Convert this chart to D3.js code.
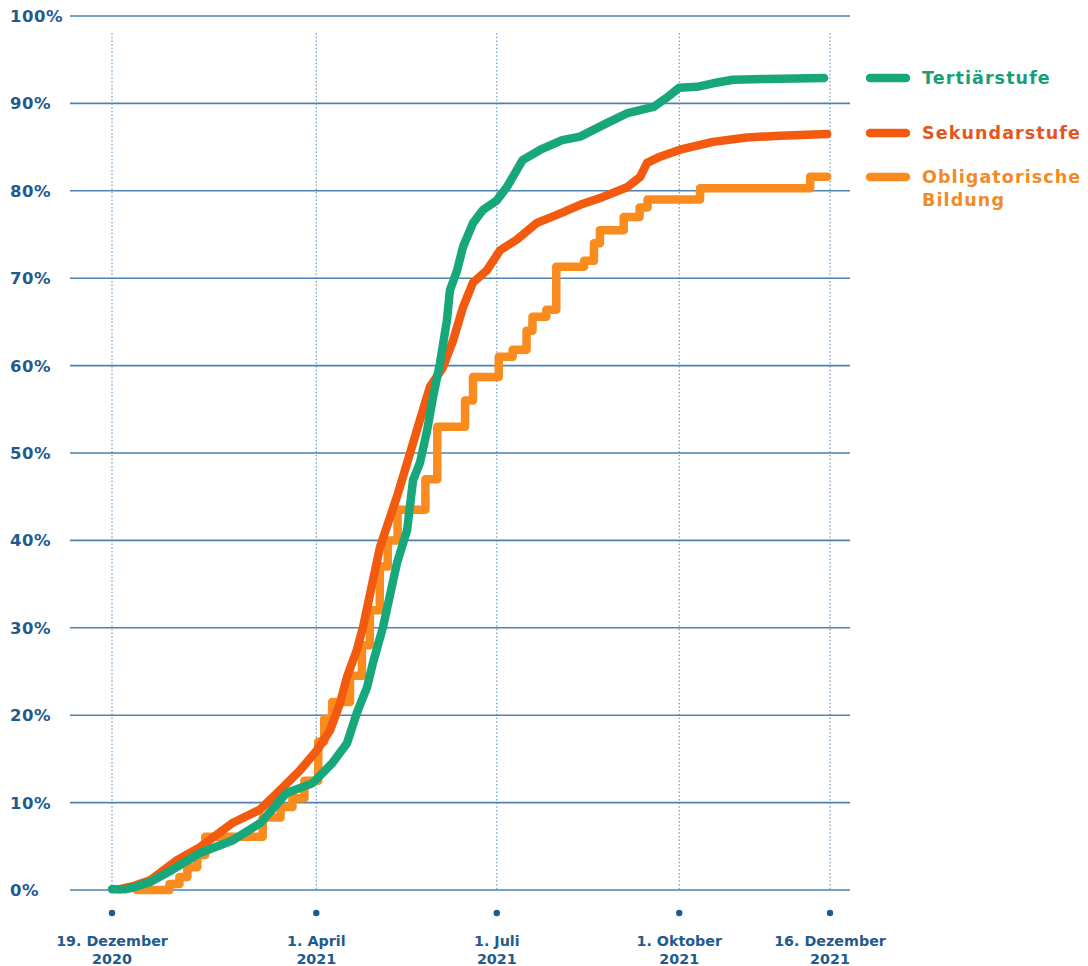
<!DOCTYPE html>
<html>
<head>
<meta charset="utf-8">
<script src="https://cdn.jsdelivr.net/npm/d3@7"></script>
<style>
  html, body { margin: 0; padding: 0; background: #fff; }
  svg { display: block; font-family: "DejaVu Sans", sans-serif; font-weight: bold; }
</style>
</head>
<body>
<div id="chart"></div>
<script>
// ---- data (day offset from 19.12.2020, share in %) ----
const startDate = new Date(2020, 11, 19);
const endDate   = new Date(2021, 11, 16);

const yTicks = [0, 10, 20, 30, 40, 50, 60, 70, 80, 90, 100];
const xTickDates  = [new Date(2020, 11, 19), new Date(2021, 3, 1), new Date(2021, 6, 1), new Date(2021, 9, 1), new Date(2021, 11, 16)];
const xTickLine1  = ['19. Dezember', '1. April', '1. Juli', '1. Oktober', '16. Dezember'];
const xTickLine2  = ['2020', '2021', '2021', '2021', '2021'];

const seriesNames  = ['Tertiärstufe', 'Sekundarstufe', 'Obligatorische Bildung'];
const seriesColors = ['#17a77b', '#f25a0f', '#f98b1f'];

const tertiaer = [
  [0, 0.1], [7, 0.1], [11, 0.3], [19, 0.9], [28, 2.0], [44, 4.2], [61, 5.7], [75, 7.7],
  [88, 11.1], [101, 12.2], [111, 14.5], [118.5, 16.8], [123.5, 20.3], [128.6, 23.2],
  [131.6, 26.0], [136.7, 30.1], [143.7, 37.4], [148.8, 41.2], [151.8, 46.9], [155.3, 48.9],
  [158.9, 52.6], [161.9, 56.4], [165.4, 60.3], [168.9, 65.2], [170.4, 68.6], [174, 70.9],
  [177, 73.6], [182, 76.3], [187, 77.8], [194, 78.9], [199, 80.4], [207, 83.5], [216, 84.7],
  [227, 85.8], [236, 86.2], [250, 87.8], [260, 88.9], [273, 89.6], [280, 90.7], [286, 91.8],
  [295, 91.9], [303, 92.3], [313, 92.7], [330, 92.8], [359, 92.9]
];
const sekundar = [
  [4, 0.1], [11.6, 0.5], [19.2, 1.1], [32.8, 3.4], [44.4, 4.9], [61, 7.7], [74.6, 9.2],
  [84.7, 11.4], [94.8, 13.7], [103.4, 16.0], [110, 18.3], [115, 21.4], [118.5, 24.4],
  [123.5, 27.5], [126.6, 30.1], [135.1, 39.2], [143.7, 45.0], [150.3, 50.0], [155.3, 53.8],
  [160.4, 57.6], [166.9, 59.8], [172, 62.9], [177, 66.7], [182, 69.5], [189, 70.9],
  [195.7, 73.2], [204, 74.4], [214, 76.3], [227, 77.5], [236, 78.4], [247.6, 79.3],
  [259.7, 80.4], [266.3, 81.6], [269.8, 83.2], [276.3, 83.9], [286.4, 84.7], [303, 85.6],
  [320, 86.1], [337, 86.3], [360.6, 86.5]
];
const obligatorisch = [
  [12.6, 0], [29, 0.7], [34, 1.5], [38, 2.6], [43, 4.0], [47, 6.1], [76, 8.3], [85, 9.5],
  [91, 10.5], [97, 12.5], [104, 17], [107, 19.6], [111, 21.5], [120, 24.5], [126, 28],
  [130, 32], [135, 37], [139, 40], [144, 43.5], [158, 47], [164, 53], [178, 56],
  [182, 58.7], [195, 61], [202, 61.8], [209, 64], [212, 65.6], [219, 66.4], [224, 71.3],
  [238, 72], [243, 74], [246, 75.5], [258, 77], [266, 78.1], [270, 79], [296.5, 80.3],
  [352, 81.6], [360.6, 81.6]
];

// ---- layout ----
const W = 1088, H = 966;
const svg = d3.select('#chart').append('svg').attr('width', W).attr('height', H);

const x = d3.scaleTime().domain([startDate, endDate]).range([112, 830]);
const y = d3.scaleLinear().domain([0, 100]).range([890, 16]);
const toDate = d => d3.timeHour.offset(startDate, d * 24);

const blue = '#1f5b8d';

/* -------- vertical dotted lines -------- */
svg.append('g').selectAll('line').data(xTickDates).enter().append('line')
  .attr('x1', d => x(d)).attr('x2', d => x(d))
  .attr('y1', 33).attr('y2', y(0))
  .attr('stroke', '#6f9cc4').attr('stroke-width', 1.2)
  .attr('stroke-dasharray', '1.5,2.2');

/* -------- horizontal grid -------- */
svg.append('g').selectAll('line').data(yTicks).enter().append('line')
  .attr('x1', 70).attr('x2', 850)
  .attr('y1', d => y(d)).attr('y2', d => y(d))
  .attr('stroke', '#4f82ae').attr('stroke-width', 1.6);

/* -------- y labels -------- */
svg.append('g').selectAll('text').data(yTicks).enter().append('text')
  .attr('x', 10).attr('y', d => y(d)).attr('dy', '0.36em')
  .attr('fill', blue).style('font-size', '16.5px').style('letter-spacing', '0.5px')
  .text(d => d + '%');

/* -------- x ticks: dots + two-line labels -------- */
const xg = svg.append('g').selectAll('g').data(xTickDates).enter().append('g')
  .attr('transform', d => `translate(${x(d)},0)`);
xg.append('circle').attr('cy', 913).attr('r', 3.2).attr('fill', blue);
xg.append('text').attr('y', 946).attr('text-anchor', 'middle')
  .attr('fill', blue).style('font-size', '14.3px')
  .text((d, i) => xTickLine1[i]);
xg.append('text').attr('y', 964).attr('text-anchor', 'middle')
  .attr('fill', blue).style('font-size', '14.3px')
  .text((d, i) => xTickLine2[i]);

/* -------- lines -------- */
const smooth = d3.line().x(d => x(toDate(d[0]))).y(d => y(d[1])).curve(d3.curveLinear);
const steps  = d3.line().x(d => x(toDate(d[0]))).y(d => y(d[1])).curve(d3.curveStepAfter);

const drawOrder = [
  { data: obligatorisch, gen: steps,  color: seriesColors[2] },
  { data: sekundar,      gen: smooth, color: seriesColors[1] },
  { data: tertiaer,      gen: smooth, color: seriesColors[0] }
];
drawOrder.forEach(s => {
  svg.append('path').datum(s.data)
    .attr('d', s.gen)
    .attr('fill', 'none')
    .attr('stroke', s.color)
    .attr('stroke-width', 8.5)
    .attr('stroke-linejoin', 'round')
    .attr('stroke-linecap', 'round');
});

/* -------- legend -------- */
const legendRows = [
  { lines: [seriesNames[0]], y: 78, color: seriesColors[0], text: '#17a077' },
  { lines: [seriesNames[1]], y: 133, color: seriesColors[1], text: '#e4561b' },
  { lines: ['Obligatorische', 'Bildung'], y: 177, color: seriesColors[2], text: '#f28a26' }
];
const lg = svg.append('g').selectAll('g').data(legendRows).enter().append('g')
  .attr('transform', d => `translate(0,${d.y})`);
lg.append('line').attr('x1', 870).attr('x2', 906)
  .attr('stroke', d => d.color).attr('stroke-width', 8.5).attr('stroke-linecap', 'round');
lg.append('text').attr('x', 922).attr('fill', d => d.text)
  .style('font-size', '17.5px').style('letter-spacing', '1.1px')
  .selectAll('tspan').data(d => d.lines).enter().append('tspan')
  .attr('x', 922).attr('dy', (d, i) => i === 0 ? '0.36em' : '1.3em')
  .text(d => d);
</script>
</body>
</html>
